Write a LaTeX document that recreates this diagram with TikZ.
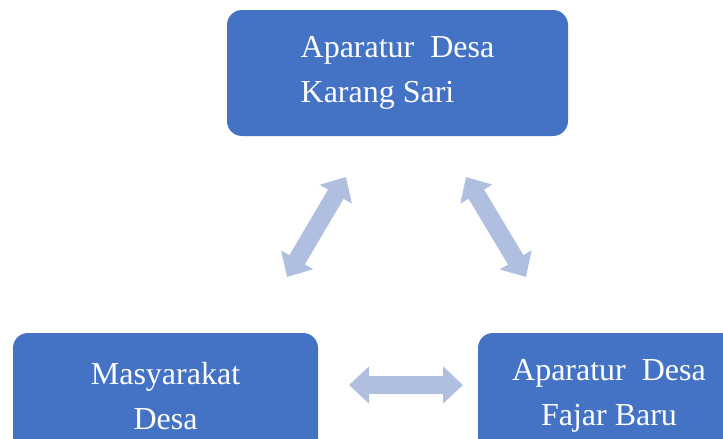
\documentclass[tikz,border=0pt]{standalone}
\usepackage{fontspec}
\setmainfont{Liberation Serif}
\usetikzlibrary{arrows.meta}
\definecolor{boxblue}{HTML}{4472C4}
\definecolor{arrowblue}{HTML}{B0BEE0}
\tikzset{
	desabox/.style={fill=boxblue, rounded corners=15pt, text=white, align=left,
		font=\fontsize{32}{45}\selectfont, inner sep=0pt, minimum height=126pt},
	dblarrow/.style={draw=arrowblue, line width=18pt,
		{Triangle[width=36pt,length=20pt]}-{Triangle[width=36pt,length=20pt]}}
}
\begin{document}
\begin{tikzpicture}[x=1pt,y=-1pt]
			\useasboundingbox (0,0) rectangle (723,439);
			\clip (0,0) rectangle (723,439);
			% boxes
			\node[desabox, minimum width=341pt] (karang) at (397.5,73) {Aparatur~ Desa\\Karang Sari};
			\node[desabox, align=center, minimum width=305pt] (masy) at (165.5,396) {Masyarakat\\Desa};
			\node[desabox, align=center, minimum width=262pt] (fajar) at (609,396) {Aparatur~ Desa\\Fajar Baru};
			% arrow ends
			\coordinate (kl) at (346,177);
			\coordinate (ml) at (287,277);
			\coordinate (kr) at (466,177);
			\coordinate (fr) at (526,277);
			\coordinate (mb) at (349,385);
			\coordinate (fb) at (463,385);
			\foreach \a/\b in {ml/kl,kr/fr,mb/fb} {
				\draw[dblarrow] (\a) -- (\b);
			}
		\end{tikzpicture}
\end{document}
